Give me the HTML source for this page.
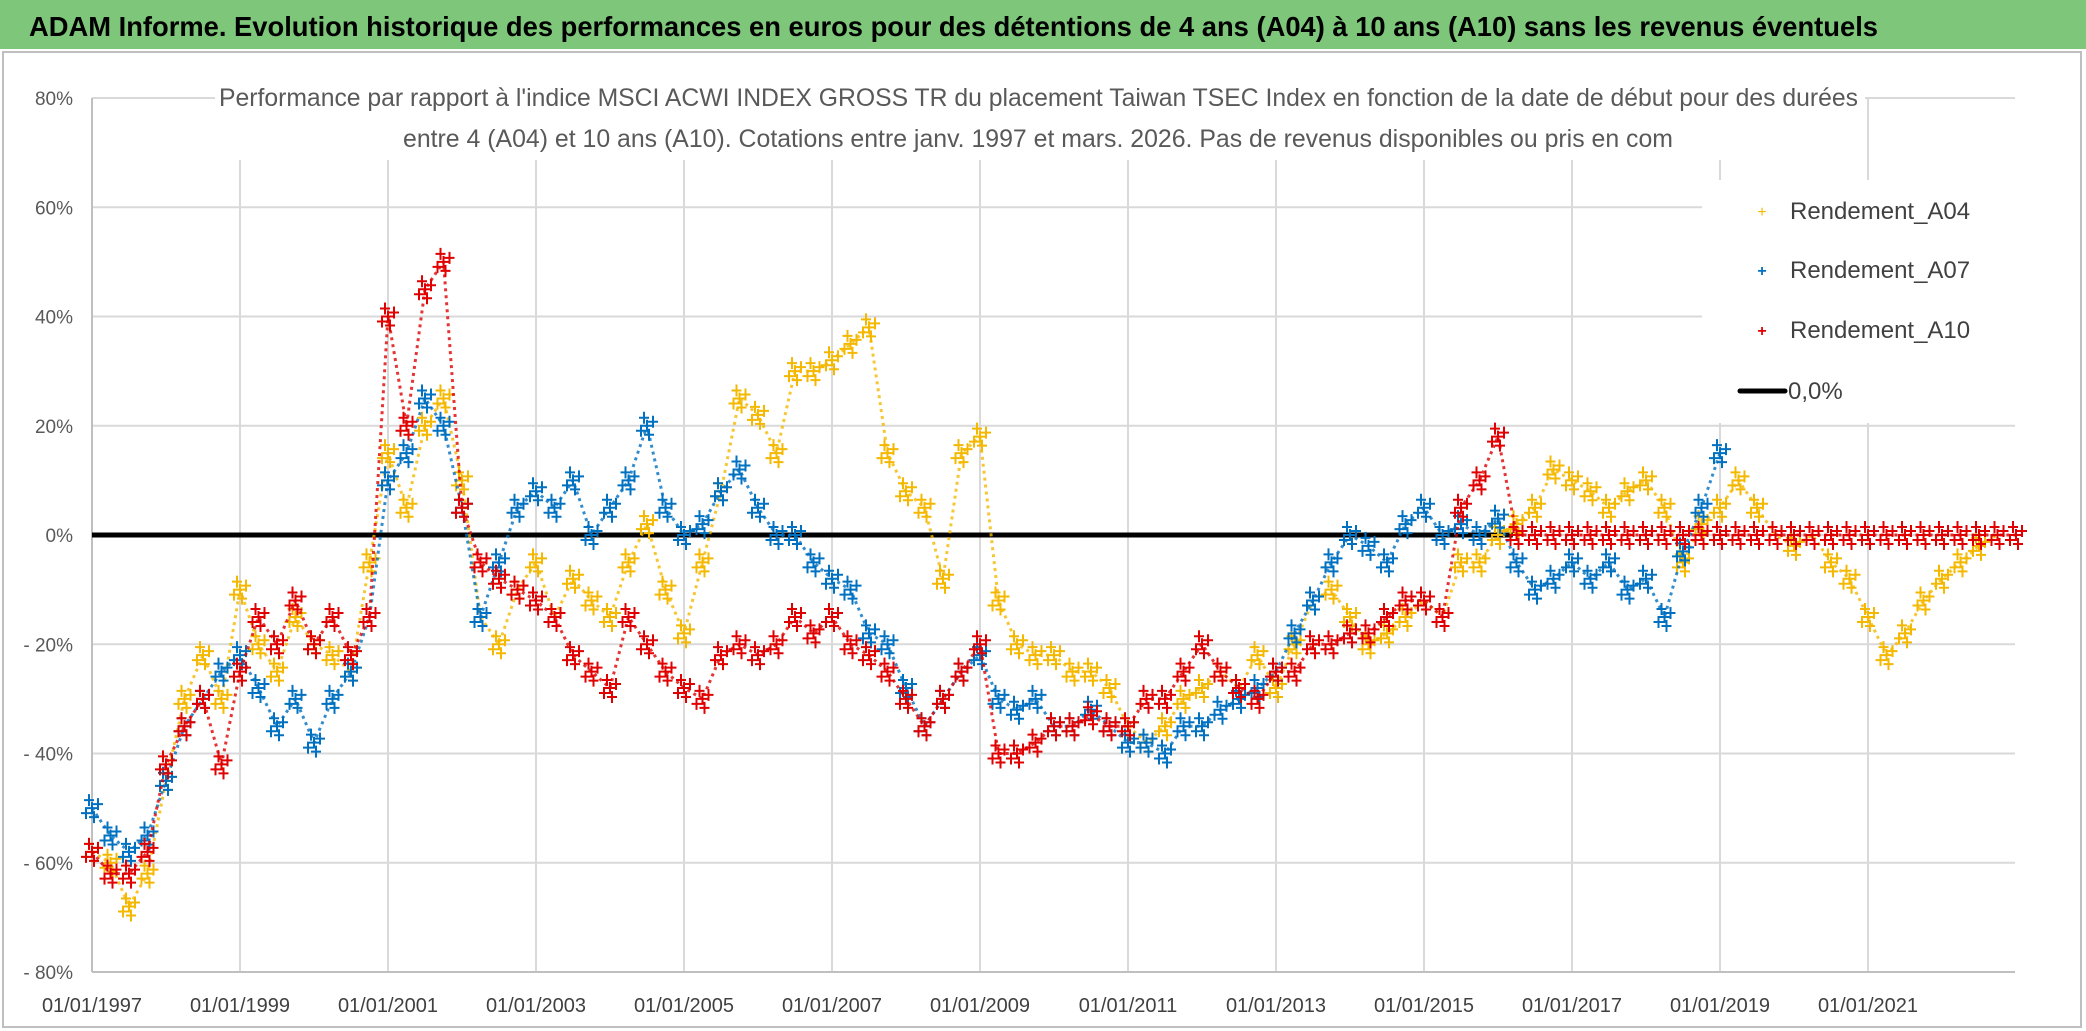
<!DOCTYPE html>
<html><head><meta charset="utf-8"><style>
html,body{margin:0;padding:0;background:#fff;}
svg{display:block;font-family:"Liberation Sans",sans-serif;}
</style></head><body>
<svg id="chart" width="2086" height="1031" viewBox="0 0 2086 1031" xmlns="http://www.w3.org/2000/svg">
<rect x="0" y="0" width="2086" height="1031" fill="#fff"/>
<rect x="0" y="0" width="2086" height="49" fill="#7dc67a"/>
<text x="29" y="36" font-size="28" font-weight="bold" fill="#000" textLength="1849" lengthAdjust="spacingAndGlyphs">ADAM Informe. Evolution historique des performances en euros pour des détentions de 4 ans (A04) à 10 ans (A10) sans les revenus éventuels</text>
<rect x="3" y="52" width="2078" height="975" fill="none" stroke="#bfbfbf" stroke-width="2"/>
<g id="grid"></g>
<g id="ylabels"></g>
<g id="xlabels"></g>
<g id="zero"></g>
<g id="series"></g>
<rect x="215" y="78" width="1650" height="82" fill="#fff"/>
<text x="219" y="106" font-size="25" fill="#595959" textLength="1639" lengthAdjust="spacingAndGlyphs">Performance par rapport à l'indice MSCI ACWI INDEX GROSS TR  du placement Taiwan TSEC Index en fonction de la date de début pour des durées</text>
<text x="403" y="147" font-size="25" fill="#595959" textLength="1270" lengthAdjust="spacingAndGlyphs">entre 4 (A04) et 10 ans (A10). Cotations entre janv. 1997 et mars. 2026. Pas de revenus disponibles ou pris en com</text>
<g>
<rect x="1702" y="180" width="313" height="243" fill="#fff"/>
<g><text x="1762" y="217" font-size="16" fill="#f5b800" text-anchor="middle">+</text><text x="1790" y="219" font-size="24" fill="#404040">Rendement_A04</text></g>
<g><text x="1762" y="276" font-size="16" fill="#0070c0" text-anchor="middle" font-weight="bold">+</text><text x="1790" y="278" font-size="24" fill="#404040">Rendement_A07</text></g>
<g><text x="1762" y="336" font-size="16" fill="#e00000" text-anchor="middle" font-weight="bold">+</text><text x="1790" y="338" font-size="24" fill="#404040">Rendement_A10</text></g>
<g><line x1="1740" y1="391" x2="1785" y2="391" stroke="#000" stroke-width="5" stroke-linecap="round"/><text x="1788" y="399" font-size="24" fill="#404040">0,0%</text></g>
</g>
</svg>
<script>
const yTicks = [80,60,40,20,0,-20,-40,-60,-80];
const yTickLabels = ["80%","60%","40%","20%","0%","- 20%","- 40%","- 60%","- 80%"];
const xTickYears = [1997,1999,2001,2003,2005,2007,2009,2011,2013,2015,2017,2019,2021];
const xTickLabels = ["01/01/1997","01/01/1999","01/01/2001","01/01/2003","01/01/2005","01/01/2007","01/01/2009","01/01/2011","01/01/2013","01/01/2015","01/01/2017","01/01/2019","01/01/2021"];
const startYear = 1997;
const step = 0.25;
const a04 = [-58,-60,-68,-62,-45,-30,-22,-30,-10,-20,-25,-15,-20,-22,-25,-5,15,5,20,25,10,-15,-20,-10,-5,-15,-8,-12,-15,-5,2,-10,-18,-5,8,25,22,15,30,30,32,35,38,15,8,5,-8,15,18,-12,-20,-22,-22,-25,-25,-28,-35,-38,-35,-30,-28,-25,-28,-22,-28,-20,-12,-10,-15,-20,-18,-15,-12,-15,-5,-5,0,2,5,12,10,8,5,8,10,5,-5,2,5,10,5,0,-2,0,-5,-8,-15,-22,-18,-12,-8,-5,-2,0];
const a07 = [-50,-55,-58,-55,-45,-35,-30,-25,-22,-28,-35,-30,-38,-30,-25,-15,10,15,25,20,5,-15,-5,5,8,5,10,0,5,10,20,5,0,2,8,12,5,0,0,-5,-8,-10,-18,-20,-28,-35,-30,-25,-22,-30,-32,-30,-35,-35,-32,-35,-38,-38,-40,-35,-35,-32,-30,-28,-25,-18,-12,-5,0,-2,-5,2,5,0,2,0,3,-5,-10,-8,-5,-8,-5,-10,-8,-15,-3,5,15];
const a10 = [-58,-62,-62,-58,-42,-35,-30,-42,-25,-15,-20,-12,-20,-15,-22,-15,40,20,45,50,5,-5,-8,-10,-12,-15,-22,-25,-28,-15,-20,-25,-28,-30,-22,-20,-22,-20,-15,-18,-15,-20,-22,-25,-30,-35,-30,-25,-20,-40,-40,-38,-35,-35,-33,-35,-35,-30,-30,-25,-20,-25,-28,-30,-25,-25,-20,-20,-18,-18,-15,-12,-12,-15,5,10,18,0,0,0,0,0,0,0,0,0,0,0,0,0,0,0,0,0,0,0,0,0,0,0,0,0,0,0,0];
const zeroEndYear = 2016.2;

const NS = "http://www.w3.org/2000/svg";
const L = 92, R = 2015, T = 98, B = 972;
function xs(yr){ return L + (yr - 1997) * 74; }
function ys(v){ return 535 - v * (437 / 80); }
function mk(tag, attrs, parent){ const e = document.createElementNS(NS, tag); for (const k in attrs) e.setAttribute(k, attrs[k]); parent.appendChild(e); return e; }

const grid = document.getElementById('grid');
yTicks.forEach((t, i) => {
  const ln = mk('line', {x1: L, x2: R, y1: ys(t), y2: ys(t), stroke: '#d9d9d9', 'stroke-width': 2}, grid);
  
  
  const tx = mk('text', {x: 73, y: ys(t) + 7, 'font-size': 19, fill: '#595959', 'text-anchor': 'end'}, document.getElementById('ylabels'));
  tx.textContent = yTickLabels[i];
  
  
});
xTickYears.forEach((yr, i) => {
  const ln = mk('line', {x1: xs(yr), x2: xs(yr), y1: T, y2: B, stroke: '#d9d9d9', 'stroke-width': 2}, grid);
  
  
  const tx = mk('text', {x: xs(yr), y: 1012, 'font-size': 20, fill: '#404040', 'text-anchor': 'middle'}, document.getElementById('xlabels'));
  tx.textContent = xTickLabels[i];
  
  
});
const axis = mk('line', {x1: L, x2: R, y1: B, y2: B, stroke: '#bfbfbf', 'stroke-width': 2}, grid);


const yaxis = mk('line', {x1: L, x2: L, y1: T, y2: B, stroke: '#bfbfbf', 'stroke-width': 2}, grid);



const zl = mk('line', {x1: xs(1997), x2: xs(zeroEndYear), y1: ys(0), y2: ys(0), stroke: '#000', 'stroke-width': 5}, document.getElementById('zero'));



const sg = document.getElementById('series');
function plus(x, y){ return `M${x-5},${y}H${x+5}M${x},${y-6}V${y+6}`; }
function drawSeries(vals, color, name){
  const g = mk('g', {}, sg);
  
  
  const pts = vals.map((v, i) => xs(startYear + i * step) + ',' + ys(v)).join(' ');
  const pl = mk('polyline', {points: pts, fill: 'none', stroke: color, 'stroke-width': 3, 'stroke-linejoin': 'round', 'stroke-dasharray': '3 4', opacity: 0.8}, g);
  
  
  vals.forEach((v, i) => {
    const x = xs(startYear + i * step), y = ys(v);
    const d = plus(x, y) + plus(x - 6, y + 5) + plus(x + 6, y - 4) + plus(x + 2, y + 9) + plus(x - 3, y - 8);
    const p = mk('path', {d: d, stroke: color, 'stroke-width': 2, fill: 'none'}, g);
    
    
  });
}
drawSeries(a04, '#f5b800', 'series-a04');
drawSeries(a07, '#0070c0', 'series-a07');
drawSeries(a10, '#e00000', 'series-a10');
</script>
</body></html>
